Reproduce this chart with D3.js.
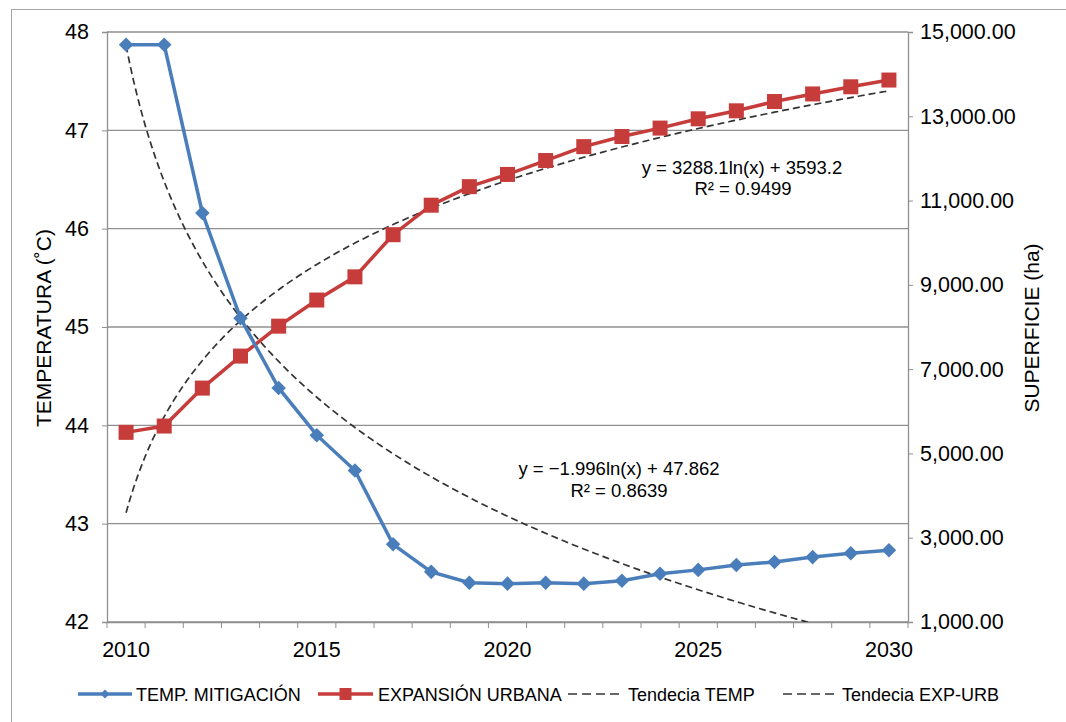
<!DOCTYPE html>
<html>
<head>
<meta charset="utf-8">
<script src="https://cdn.jsdelivr.net/npm/d3@7"></script>
<style>
  body { margin: 0; background: #fff; }
  text { font-family: "Liberation Sans", Arial, sans-serif; fill: #000; }
</style>
</head>
<body>
<div id="chart"></div>
<script>
var svgWidth = 1066;
var svgHeight = 722;

var margin = { top: 32, right: 158, bottom: 100, left: 107 };
var width = svgWidth - margin.left - margin.right;
var height = svgHeight - margin.top - margin.bottom;

// data
var years = [2010, 2011, 2012, 2013, 2014, 2015, 2016, 2017, 2018, 2019, 2020,
  2021, 2022, 2023, 2024, 2025, 2026, 2027, 2028, 2029, 2030];
var tempMitigacion = [47.87, 47.87, 46.16, 45.09, 44.38, 43.90, 43.54, 42.79, 42.51, 42.40, 42.39,
  42.40, 42.39, 42.42, 42.49, 42.53, 42.58, 42.61, 42.66, 42.70, 42.73];
var expansionUrbana = [5500, 5650, 6550, 7310, 8020, 8640, 9190, 10190, 10890, 11330, 11620,
  11950, 12280, 12520, 12720, 12940, 13130, 13350, 13530, 13700, 13860];
var yearLabels = [2010, 2015, 2020, 2025, 2030];
var tempTicks = [42, 43, 44, 45, 46, 47, 48];
var supTicks = [1000, 3000, 5000, 7000, 9000, 11000, 13000, 15000];

// printed trendline equations (y = a ln(x) + b)
var trendTemp = { a: -1.996, b: 47.862 };
var trendUrb = { a: 3288.1, b: 3593.2 };

var blue = "#4a7ebb";
var red = "#c63c3a";
var grid = "#8f8f8f";

var svg = d3.select("#chart")
  .append("svg")
  .attr("width", svgWidth)
  .attr("height", svgHeight);

// outer chart border
svg.append("rect")
  .attr("x", 11.5).attr("y", 9.5)
  .attr("width", 1200).attr("height", 900)
  .attr("fill", "none")
  .attr("stroke", "#a6a6a6");

var chartGroup = svg.append("g")
  .attr("transform", `translate(${margin.left}, ${margin.top})`);

var xScale = d3.scaleBand().domain(years).range([0, width]);
var xMid = d => xScale(d) + xScale.bandwidth() / 2;
// continuous x for trendlines: index 1 = first category
var xIdx = d3.scaleLinear().domain([1, years.length]).range([xMid(years[0]), xMid(years[years.length - 1])]);

var yLeft = d3.scaleLinear().domain([42, 48]).range([height, 0]);
var yRight = d3.scaleLinear().domain([1000, 15000]).range([height, 0]);

// gridlines
chartGroup.selectAll(".grid")
  .data(tempTicks)
  .enter()
  .append("line")
  .attr("x1", 0).attr("x2", width)
  .attr("y1", d => yLeft(d)).attr("y2", d => yLeft(d))
  .attr("stroke", grid)
  .attr("stroke-width", 1.3);

// left axis
var leftAxis = d3.axisLeft(yLeft).tickValues(tempTicks).tickSize(5).tickPadding(13)
  .tickFormat(d3.format("d"));
var yAxisL = chartGroup.append("g").call(leftAxis);
// right axis
var rightAxis = d3.axisRight(yRight).tickValues(supTicks).tickSize(5).tickPadding(7)
  .tickFormat(d3.format(",.2f"));
var yAxisR = chartGroup.append("g")
  .attr("transform", `translate(${width}, 0)`)
  .call(rightAxis);
// bottom axis: ticks between categories, labels every 5 years
var bottomAxis = d3.axisBottom(xScale).tickValues(yearLabels).tickSize(0).tickPadding(20);
var xAxis = chartGroup.append("g")
  .attr("transform", `translate(0, ${height})`)
  .call(bottomAxis);
xAxis.selectAll(".boundary")
  .data(d3.range(years.length + 1))
  .enter()
  .append("line")
  .attr("x1", i => i * xScale.step()).attr("x2", i => i * xScale.step())
  .attr("y1", 0).attr("y2", 6)
  .attr("stroke", grid);

[yAxisL, yAxisR, xAxis].forEach(function(ax){
  ax.select(".domain").attr("stroke", grid).attr("stroke-width", 1.3);
  ax.selectAll(".tick line").attr("stroke", grid);
  ax.selectAll("text")
    .attr("font-size", 21.5)
    .attr("font-family", "Liberation Sans, Arial, sans-serif")
    .attr("fill", "#000");
});
xAxis.selectAll(".tick text").attr("dy", "0.71em");

// axis titles
svg.append("text")
  .attr("transform", "translate(51, 328) rotate(-90)")
  .attr("text-anchor", "middle")
  .attr("font-size", 21)
  .text("TEMPERATURA (˚C)");

svg.append("text")
  .attr("transform", "translate(1039, 328) rotate(-90)")
  .attr("text-anchor", "middle")
  .attr("font-size", 21)
  .text("SUPERFICIE (ha)");

// trendlines (clipped to plot area)
chartGroup.append("clipPath").attr("id", "plotClip")
  .append("rect").attr("width", width).attr("height", height);

var xs = d3.range(1, years.length + 0.001, 0.1);
var trendLine = function(t, yScale){
  return d3.line()
    .x(x => xIdx(x))
    .y(x => yScale(t.a * Math.log(x) + t.b))(xs);
};

chartGroup.append("path")
  .attr("d", trendLine(trendTemp, yLeft))
  .attr("clip-path", "url(#plotClip)")
  .attr("fill", "none")
  .attr("stroke", "#333")
  .attr("stroke-width", 1.7)
  .attr("stroke-dasharray", "7,4");

chartGroup.append("path")
  .attr("d", trendLine(trendUrb, yRight))
  .attr("clip-path", "url(#plotClip)")
  .attr("fill", "none")
  .attr("stroke", "#333")
  .attr("stroke-width", 1.7)
  .attr("stroke-dasharray", "7,4");

// series lines
var tempLine = d3.line().x((d, i) => xMid(years[i])).y(d => yLeft(d));
var urbLine = d3.line().x((d, i) => xMid(years[i])).y(d => yRight(d));

chartGroup.append("path")
  .attr("d", urbLine(expansionUrbana))
  .attr("fill", "none")
  .attr("stroke", red)
  .attr("stroke-width", 3.5);

chartGroup.selectAll(".sq")
  .data(expansionUrbana)
  .enter()
  .append("rect")
  .attr("x", (d, i) => xMid(years[i]) - 7.5)
  .attr("y", d => yRight(d) - 7.5)
  .attr("width", 15).attr("height", 15)
  .attr("fill", red);

chartGroup.append("path")
  .attr("d", tempLine(tempMitigacion))
  .attr("fill", "none")
  .attr("stroke", blue)
  .attr("stroke-width", 3.5);

var diamond = d3.symbol().type(d3.symbolDiamond2).size(135);
chartGroup.selectAll(".dm")
  .data(tempMitigacion)
  .enter()
  .append("path")
  .attr("d", diamond)
  .attr("transform", (d, i) => `translate(${xMid(years[i])}, ${yLeft(d)})`)
  .attr("fill", blue);

// trendline equations
var eqs = [
  { x: 742, y: 174, t: "y = 3288.1ln(x) + 3593.2" },
  { x: 743, y: 195, t: "R² = 0.9499" },
  { x: 619, y: 475, t: "y = −1.996ln(x) + 47.862" },
  { x: 619, y: 497, t: "R² = 0.8639" }
];
svg.selectAll(".eq")
  .data(eqs)
  .enter()
  .append("text")
  .attr("x", d => d.x).attr("y", d => d.y)
  .attr("text-anchor", "middle")
  .attr("font-size", 18.5)
  .text(d => d.t);

// legend
var legendY = 694;
var legend = svg.append("g");
var items = [
  { x1: 78, x2: 132, tx: 136, label: "TEMP. MITIGACIÓN", kind: "temp" },
  { x1: 318, x2: 373, tx: 378, label: "EXPANSIÓN URBANA", kind: "urb" },
  { x1: 568, x2: 620, tx: 628, label: "Tendecia TEMP", kind: "dash" },
  { x1: 783, x2: 835, tx: 842, label: "Tendecia EXP-URB", kind: "dash" }
];
items.forEach(function(it){
  var col = it.kind === "temp" ? blue : it.kind === "urb" ? red : "#666";
  legend.append("line")
    .attr("x1", it.x1).attr("x2", it.x2)
    .attr("y1", legendY).attr("y2", legendY)
    .attr("stroke", col)
    .attr("stroke-width", it.kind === "dash" ? 2 : 3.5)
    .attr("stroke-dasharray", it.kind === "dash" ? "9,5" : null);
  var mx = (it.x1 + it.x2) / 2;
  if (it.kind === "temp") {
    legend.append("path")
      .attr("d", d3.symbol().type(d3.symbolDiamond2).size(50))
      .attr("transform", `translate(${mx}, ${legendY})`)
      .attr("fill", blue);
  } else if (it.kind === "urb") {
    legend.append("rect")
      .attr("x", mx - 6).attr("y", legendY - 6)
      .attr("width", 12).attr("height", 12)
      .attr("fill", red);
  }
  legend.append("text")
    .attr("x", it.tx).attr("y", legendY + 6.5)
    .attr("font-size", 18)
    .text(it.label);
});
</script>
</body>
</html>
